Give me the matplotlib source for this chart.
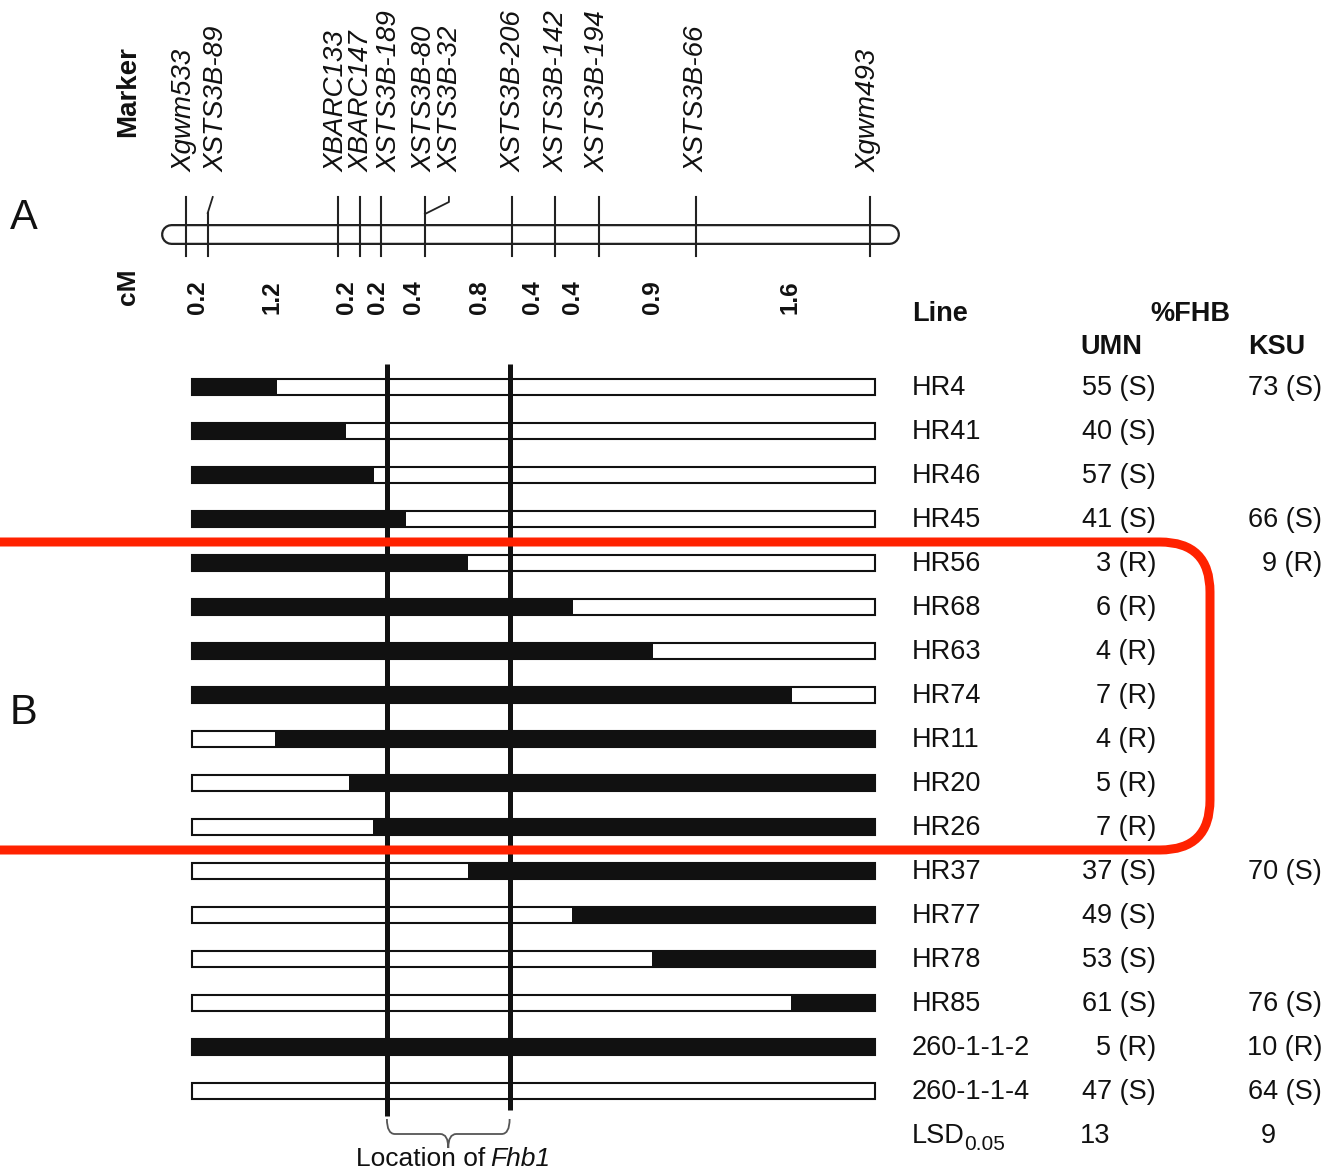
import numpy as np
import matplotlib
matplotlib.use('Agg')
import matplotlib.pyplot as plt
from matplotlib import font_manager
from matplotlib.patches import FancyBboxPatch, PathPatch
from matplotlib.path import Path

plt.rcParams['font.family'] = ['Liberation Sans', 'DejaVu Sans']

_names = {f.name for f in font_manager.fontManager.ttflist}
HAS_NARROW = 'Liberation Sans Narrow' in _names
NARROW = ['Liberation Sans Narrow', 'DejaVu Sans'] if HAS_NARROW else ['Liberation Sans', 'DejaVu Sans']

# ---------------- data ----------------
interval_cM = [0.2, 1.2, 0.2, 0.2, 0.4, 0.8, 0.4, 0.4, 0.9, 1.6]
marker_names = ['Xgwm533', 'XSTS3B-89', 'XBARC133', 'XBARC147', 'XSTS3B-189',
                'XSTS3B-80', 'XSTS3B-32', 'XSTS3B-206', 'XSTS3B-142',
                'XSTS3B-194', 'XSTS3B-66', 'Xgwm493']
marker_locus = [0, 1, 2, 3, 4, 5, 5, 6, 7, 8, 9, 10]

lines = ['HR4', 'HR41', 'HR46', 'HR45', 'HR56', 'HR68', 'HR63', 'HR74',
         'HR11', 'HR20', 'HR26', 'HR37', 'HR77', 'HR78', 'HR85',
         '260-1-1-2', '260-1-1-4']
breakpoint_cM = [0.84, 1.47, 1.73, 2.03, 2.6, 3.56, 4.3, 5.58,
                 0.82, 1.5, 1.72, 2.6, 3.55, 4.29, 5.57, None, None]
donor_side = ['left'] * 8 + ['right'] * 7 + ['all', 'none']

umn_fhb = [55, 40, 57, 41, 3, 6, 4, 7, 4, 5, 7, 37, 49, 53, 61, 5, 47]
umn_class = ['S', 'S', 'S', 'S', 'R', 'R', 'R', 'R', 'R', 'R', 'R',
             'S', 'S', 'S', 'S', 'R', 'S']
ksu_fhb = [73, None, None, 66, 9, None, None, None, None, None, None,
           70, None, None, 76, 10, 64]
ksu_class = ['S', None, None, 'S', 'R', None, None, None, None, None, None,
             'S', None, None, 'S', 'R', 'S']
lsd_umn = 13
lsd_ksu = 9
fhb1_bounds_cM = [1.85, 2.98]

# ---------------- layout ----------------
W, H = 1327, 1171
X0, SCALE = 186.0, 108.6      # pixel x of 0 cM, pixels per cM
Y0, ROW = 387.0, 44.0         # pixel y of first row, pixels per row
BAR_START, BAR_END = 0.055, 6.344
BAR_H = 17.0 / ROW
INK = '#111111'


def cx(p):
    return (p - X0) / SCALE


def ry(p):
    return (p - Y0) / ROW


fig = plt.figure(figsize=(W / 100, H / 100), dpi=100)
ax = fig.add_axes([0, 0, 1, 1])
ax.set_xlim(cx(0), cx(W))
ax.set_ylim(ry(H), ry(0))
ax.axis('off')

ov = fig.add_axes([0, 0, 1, 1], zorder=5)
ov.set_xlim(0, W)
ov.set_ylim(H, 0)
ov.axis('off')
ov.patch.set_alpha(0)

loci = np.concatenate([[0.0], np.cumsum(interval_cM)])

# ---------- chromosome (panel A) ----------
yc = ry(234)
ax.plot([cx(171), cx(889)], [yc, yc], color='#222222', lw=21 * 0.72,
        solid_capstyle='round', zorder=2)
ax.plot([cx(171), cx(889)], [yc, yc], color='white', lw=16.5 * 0.72,
        solid_capstyle='round', zorder=3)

for k, (name, loc) in enumerate(zip(marker_names, marker_locus)):
    xm = loci[loc]
    if k == 6:
        continue
    top = 213 if k == 1 else 197
    ax.plot([xm, xm], [ry(top), ry(256)], color='#222222', lw=1.5, zorder=4)
# connectors to offset labels
ax.plot([loci[1], loci[1] + 5 / SCALE], [ry(213), ry(197)], color='#222222', lw=1.3, zorder=4)
ax.plot([loci[5], loci[5] + 24 / SCALE, loci[5] + 24 / SCALE],
        [ry(214), ry(202), ry(197)], color='#222222', lw=1.3, zorder=4)

label_dx_px = [-1, 9, -2, 2, 8, 0, 26, 2, 1, -1, 0, -2]
mk_size = 23 if HAS_NARROW else 20
for k, (name, loc) in enumerate(zip(marker_names, marker_locus)):
    xl = loci[loc] + label_dx_px[k] / SCALE
    ax.text(xl, ry(172), name, rotation=90, ha='center', va='bottom',
            fontsize=mk_size, style='italic', color=INK, family=NARROW)

mids = (loci[:-1] + loci[1:]) / 2
cm_nudge_px = [1, -1, -2, 7, 10, 11, -1, -4, 5, 7]
cm_size = 19.5 if HAS_NARROW else 17.5
for m, v, d in zip(mids, interval_cM, cm_nudge_px):
    ax.text(m + d / SCALE, ry(297), f'{v:.1f}', rotation=90, ha='center',
            va='center', fontsize=cm_size, fontweight='bold', color=INK,
            family=NARROW)

ov.text(128, 92, 'Marker', rotation=90, ha='center', va='center',
        fontsize=20, fontweight='bold', color=INK)
ov.text(128, 287, 'cM', rotation=90, ha='center', va='center',
        fontsize=19, fontweight='bold', color=INK)
ov.text(10, 218, 'A', ha='left', va='center', fontsize=30, color=INK)
ov.text(10, 713, 'B', ha='left', va='center', fontsize=30, color=INK)

# ---------- haplotype bars (panel B) ----------
for i, (bp, side) in enumerate(zip(breakpoint_cM, donor_side)):
    ax.barh(i, BAR_END - BAR_START, left=BAR_START, height=15.5 / ROW,
            color='white', edgecolor=INK, linewidth=1.5, zorder=2)
    if side == 'left':
        ax.barh(i, bp - BAR_START, left=BAR_START, height=BAR_H,
                color=INK, linewidth=0, zorder=3)
    elif side == 'right':
        ax.barh(i, BAR_END - bp, left=bp, height=BAR_H,
                color=INK, linewidth=0, zorder=3)
    elif side == 'all':
        ax.barh(i, BAR_END - BAR_START, left=BAR_START, height=BAR_H,
                color=INK, linewidth=0, zorder=3)

# Fhb1 interval lines
ax.plot([fhb1_bounds_cM[0]] * 2, [ry(364), ry(1116)], color=INK,
        lw=5 * 0.72, solid_capstyle='butt', zorder=4)
ax.plot([fhb1_bounds_cM[1]] * 2, [ry(364), ry(1110)], color=INK,
        lw=5 * 0.72, solid_capstyle='butt', zorder=4)

# brace
xl_, xr_ = X0 + SCALE * fhb1_bounds_cM[0], X0 + SCALE * fhb1_bounds_cM[1]
xm_ = (xl_ + xr_) / 2
verts = [(xl_, 1119), (xl_, 1134), (xl_ + 8, 1134), (xm_ - 8, 1134),
         (xm_, 1134), (xm_, 1148), (xm_, 1134), (xm_ + 8, 1134),
         (xr_ - 8, 1134), (xr_, 1134), (xr_, 1119)]
codes = [Path.MOVETO, Path.CURVE3, Path.CURVE3, Path.LINETO,
         Path.CURVE3, Path.CURVE3, Path.CURVE3, Path.CURVE3,
         Path.LINETO, Path.CURVE3, Path.CURVE3]
ov.add_patch(PathPatch(Path(verts, codes), fill=False, edgecolor='#555555', lw=1.3))
loc_size = 22 if HAS_NARROW else 19
ov.text(485, 1159, 'Location of', ha='right', va='center',
        fontsize=loc_size, color=INK, family=NARROW)
ov.text(490, 1159, 'Fhb1', ha='left', va='center', style='italic',
        fontsize=loc_size, color=INK, family=NARROW)

# ---------- table ----------
TXT = dict(fontsize=19.5, color=INK, va='center')
ov.text(912, 314, 'Line', ha='left', fontweight='bold', **TXT)
ov.text(1190, 314, '%FHB', ha='center', fontweight='bold', **TXT)
ov.text(1080, 347, 'UMN', ha='left', fontweight='bold', **TXT)
ov.text(1248, 347, 'KSU', ha='left', fontweight='bold', **TXT)
for i, name in enumerate(lines):
    y = Y0 + ROW * i + 1
    ov.text(912, y, name, ha='left', **TXT)
    ov.text(1156, y, f'{umn_fhb[i]} ({umn_class[i]})', ha='right', **TXT)
    if ksu_fhb[i] is not None:
        ov.text(1322, y, f'{ksu_fhb[i]} ({ksu_class[i]})', ha='right', **TXT)
ov.text(912, 1136, 'LSD', ha='left', **TXT)
ov.text(964, 1144, '0.05', ha='left', va='center', fontsize=15, color=INK)
ov.text(1080, 1136, f'{lsd_umn}', ha='left', **TXT)
ov.text(1268, 1136, f'{lsd_ksu}', ha='center', **TXT)

# ---------- red highlight box ----------
ov.add_patch(FancyBboxPatch((-80, 542), 1290, 308,
                            boxstyle='round,pad=0,rounding_size=50',
                            fill=False, edgecolor='#ff2200', lw=9 * 0.72,
                            zorder=10))

fig.savefig('out.png', dpi=100)
